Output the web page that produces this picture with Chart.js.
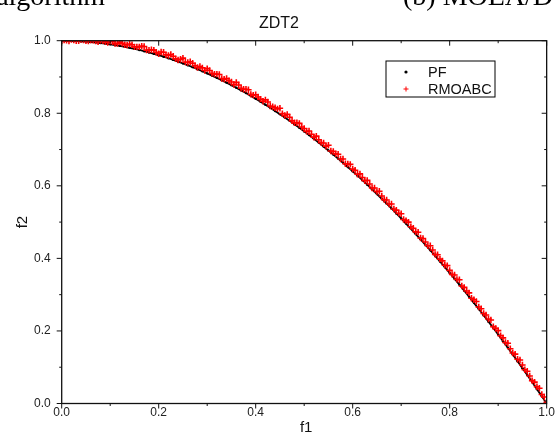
<!DOCTYPE html>
<html>
<head>
<meta charset="utf-8">
<script src="https://cdn.jsdelivr.net/npm/chart.js@4/dist/chart.umd.min.js"></script>
<style>
  html, body { margin: 0; padding: 0; background: #fff; }
  #wrap { width: 557px; height: 434px; position: relative; }
</style>
</head>
<body>
<div id="wrap"><canvas id="zdt2"></canvas></div>
<script>
// PF (true front), f1 / f2
const pfF1 = [
  0.00, 0.01, 0.02, 0.03, 0.04, 0.05, 0.06, 0.07, 0.08, 0.09,
  0.10, 0.11, 0.12, 0.13, 0.14, 0.15, 0.16, 0.17, 0.18, 0.19,
  0.20, 0.21, 0.22, 0.23, 0.24, 0.25, 0.26, 0.27, 0.28, 0.29,
  0.30, 0.31, 0.32, 0.33, 0.34, 0.35, 0.36, 0.37, 0.38, 0.39,
  0.40, 0.41, 0.42, 0.43, 0.44, 0.45, 0.46, 0.47, 0.48, 0.49,
  0.50, 0.51, 0.52, 0.53, 0.54, 0.55, 0.56, 0.57, 0.58, 0.59,
  0.60, 0.61, 0.62, 0.63, 0.64, 0.65, 0.66, 0.67, 0.68, 0.69,
  0.70, 0.71, 0.72, 0.73, 0.74, 0.75, 0.76, 0.77, 0.78, 0.79,
  0.80, 0.81, 0.82, 0.83, 0.84, 0.85, 0.86, 0.87, 0.88, 0.89,
  0.90, 0.91, 0.92, 0.93, 0.94, 0.95, 0.96, 0.97, 0.98, 0.99,
  1.00
];
const pfF2 = [
  1.0000, 0.9999, 0.9996, 0.9991, 0.9984, 0.9975, 0.9964, 0.9951, 0.9936, 0.9919,
  0.9900, 0.9879, 0.9856, 0.9831, 0.9804, 0.9775, 0.9744, 0.9711, 0.9676, 0.9639,
  0.9600, 0.9559, 0.9516, 0.9471, 0.9424, 0.9375, 0.9324, 0.9271, 0.9216, 0.9159,
  0.9100, 0.9039, 0.8976, 0.8911, 0.8844, 0.8775, 0.8704, 0.8631, 0.8556, 0.8479,
  0.8400, 0.8319, 0.8236, 0.8151, 0.8064, 0.7975, 0.7884, 0.7791, 0.7696, 0.7599,
  0.7500, 0.7399, 0.7296, 0.7191, 0.7084, 0.6975, 0.6864, 0.6751, 0.6636, 0.6519,
  0.6400, 0.6279, 0.6156, 0.6031, 0.5904, 0.5775, 0.5644, 0.5511, 0.5376, 0.5239,
  0.5100, 0.4959, 0.4816, 0.4671, 0.4524, 0.4375, 0.4224, 0.4071, 0.3916, 0.3759,
  0.3600, 0.3439, 0.3276, 0.3111, 0.2944, 0.2775, 0.2604, 0.2431, 0.2256, 0.2079,
  0.1900, 0.1719, 0.1536, 0.1351, 0.1164, 0.0975, 0.0784, 0.0591, 0.0396, 0.0199,
  0.0000
];

// RMOABC solutions, f1 / f2 (sit just above the front)
const rmoF1 = [
  0.000, 0.005, 0.010, 0.015, 0.020, 0.025, 0.030, 0.035, 0.040, 0.045,
  0.050, 0.055, 0.060, 0.065, 0.070, 0.075, 0.080, 0.085, 0.090, 0.095,
  0.100, 0.105, 0.110, 0.115, 0.120, 0.125, 0.130, 0.135, 0.140, 0.145,
  0.150, 0.155, 0.160, 0.165, 0.170, 0.175, 0.180, 0.185, 0.190, 0.195,
  0.200, 0.205, 0.210, 0.215, 0.220, 0.225, 0.230, 0.235, 0.240, 0.245,
  0.250, 0.255, 0.260, 0.265, 0.270, 0.275, 0.280, 0.285, 0.290, 0.295,
  0.300, 0.305, 0.310, 0.315, 0.320, 0.325, 0.330, 0.335, 0.340, 0.345,
  0.350, 0.355, 0.360, 0.365, 0.370, 0.375, 0.380, 0.385, 0.390, 0.395,
  0.400, 0.405, 0.410, 0.415, 0.420, 0.425, 0.430, 0.435, 0.440, 0.445,
  0.450, 0.455, 0.460, 0.465, 0.470, 0.475, 0.480, 0.485, 0.490, 0.495,
  0.500, 0.505, 0.510, 0.515, 0.520, 0.525, 0.530, 0.535, 0.540, 0.545,
  0.550, 0.555, 0.560, 0.565, 0.570, 0.575, 0.580, 0.585, 0.590, 0.595,
  0.600, 0.605, 0.610, 0.615, 0.620, 0.625, 0.630, 0.635, 0.640, 0.645,
  0.650, 0.655, 0.660, 0.665, 0.670, 0.675, 0.680, 0.685, 0.690, 0.695,
  0.700, 0.705, 0.710, 0.715, 0.720, 0.725, 0.730, 0.735, 0.740, 0.745,
  0.750, 0.755, 0.760, 0.765, 0.770, 0.775, 0.780, 0.785, 0.790, 0.795,
  0.800, 0.805, 0.810, 0.815, 0.820, 0.825, 0.830, 0.835, 0.840, 0.845,
  0.850, 0.855, 0.860, 0.865, 0.870, 0.875, 0.880, 0.885, 0.890, 0.895,
  0.900, 0.905, 0.910, 0.915, 0.920, 0.925, 0.930, 0.935, 0.940, 0.945,
  0.950, 0.955, 0.960, 0.965, 0.970, 0.975, 0.980, 0.985, 0.990, 0.995,
  1.000
];
const rmoF2 = [
  1.000, 1.002, 1.001, 0.999, 1.003, 1.002, 1.000, 1.000, 1.003, 1.002,
  1.000, 0.999, 1.002, 1.001, 0.999, 0.997, 1.001, 1.000, 0.997, 0.995,
  0.999, 0.997, 0.992, 0.992, 0.996, 0.993, 0.989, 0.988, 0.991, 0.989,
  0.983, 0.983, 0.983, 0.985, 0.984, 0.974, 0.974, 0.975, 0.974, 0.968,
  0.964, 0.969, 0.968, 0.961, 0.959, 0.962, 0.957, 0.950, 0.947, 0.949,
  0.952, 0.941, 0.940, 0.942, 0.938, 0.931, 0.926, 0.929, 0.925, 0.918,
  0.923, 0.918, 0.910, 0.908, 0.908, 0.907, 0.896, 0.894, 0.896, 0.890,
  0.886, 0.879, 0.885, 0.878, 0.869, 0.866, 0.866, 0.865, 0.852, 0.850,
  0.851, 0.845, 0.839, 0.833, 0.837, 0.831, 0.820, 0.818, 0.815, 0.812,
  0.814, 0.799, 0.794, 0.797, 0.789, 0.779, 0.774, 0.774, 0.772, 0.762,
  0.758, 0.750, 0.751, 0.742, 0.734, 0.737, 0.727, 0.719, 0.718, 0.709,
  0.712, 0.696, 0.695, 0.688, 0.687, 0.674, 0.674, 0.661, 0.660, 0.659,
  0.646, 0.643, 0.632, 0.633, 0.623, 0.614, 0.615, 0.605, 0.594, 0.594,
  0.584, 0.585, 0.572, 0.562, 0.561, 0.550, 0.550, 0.536, 0.533, 0.524,
  0.523, 0.507, 0.504, 0.500, 0.487, 0.483, 0.473, 0.472, 0.456, 0.455,
  0.445, 0.435, 0.435, 0.423, 0.411, 0.410, 0.398, 0.393, 0.381, 0.380,
  0.367, 0.356, 0.354, 0.342, 0.341, 0.324, 0.320, 0.310, 0.305, 0.290,
  0.286, 0.281, 0.266, 0.261, 0.248, 0.244, 0.233, 0.230, 0.212, 0.207,
  0.201, 0.187, 0.181, 0.168, 0.166, 0.151, 0.139, 0.136, 0.122, 0.120,
  0.106, 0.093, 0.089, 0.076, 0.063, 0.059, 0.046, 0.042, 0.025, 0.018,
  0.003
];

const majorTicks = [0, 0.2, 0.4, 0.6, 0.8, 1.0];
const minorTicks = [0.1, 0.3, 0.5, 0.7, 0.9];

const SANS = "'Liberation Sans', Arial, sans-serif";
const SERIF = "'Liberation Serif', 'Times New Roman', serif";

const toPoints = (xs, ys) => xs.map((x, i) => ({ x, y: ys[i] }));

// ── frame, ticks, legend, titles ───────────────────────────
const decorPlugin = {
  id: 'decor',
  afterDraw(chart) {
    const { ctx, chartArea: a, scales } = chart;
    const xs = scales.x, ys = scales.y;
    ctx.save();

    // box
    ctx.strokeStyle = '#111';
    ctx.lineWidth = 1.3;
    ctx.strokeRect(a.left, a.top, a.right - a.left, a.bottom - a.top);

    // ticks: out on bottom/left, in on top/right
    const tick = (v, len) => {
      const px = xs.getPixelForValue(v);
      const py = ys.getPixelForValue(v);
      ctx.beginPath();
      ctx.moveTo(px, a.bottom); ctx.lineTo(px, a.bottom + len);
      ctx.moveTo(px, a.top);    ctx.lineTo(px, a.top + len);
      ctx.moveTo(a.left, py);   ctx.lineTo(a.left - len, py);
      ctx.moveTo(a.right, py);  ctx.lineTo(a.right - len, py);
      ctx.stroke();
    };
    ctx.lineWidth = 1;
    majorTicks.forEach(v => tick(v, 5));
    minorTicks.forEach(v => tick(v, 2.5));

    // legend
    const lx = 386, ly = 61, lw = 109, lh = 36;
    ctx.lineWidth = 1;
    ctx.strokeStyle = '#000';
    ctx.strokeRect(lx, ly, lw, lh);
    ctx.font = `14.5px ${SANS}`;
    ctx.textBaseline = 'middle';
    chart.data.datasets.forEach((ds, i) => {
      const cy = ly + 11 + i * 17;
      if (ds.pointStyle === 'cross') {
        ctx.strokeStyle = ds.pointBorderColor;
        ctx.beginPath();
        ctx.moveTo(403.5, cy); ctx.lineTo(408.5, cy);
        ctx.moveTo(406, cy - 2.5); ctx.lineTo(406, cy + 2.5);
        ctx.stroke();
      } else {
        ctx.fillStyle = ds.pointBackgroundColor;
        ctx.beginPath();
        ctx.arc(406, cy, 1.6, 0, Math.PI * 2);
        ctx.fill();
      }
      ctx.fillStyle = '#111';
      ctx.fillText(ds.label, 428, cy + 1);
    });

    // titles
    ctx.fillStyle = '#111';
    ctx.textAlign = 'center';
    ctx.textBaseline = 'alphabetic';
    ctx.font = `16px ${SANS}`;
    ctx.fillText('ZDT2', 279, 28);
    ctx.font = `15px ${SANS}`;
    ctx.fillText('f1', (a.left + a.right) / 2 + 2, 432);
    ctx.save();
    ctx.translate(27, (a.top + a.bottom) / 2);
    ctx.rotate(-Math.PI / 2);
    ctx.fillText('f2', 0, 0);
    ctx.restore();

    // cropped caption line of the page above
    ctx.font = `28px ${SERIF}`;
    ctx.textAlign = 'right';
    ctx.fillStyle = '#000';
    ctx.fillText('algorithm', 105, 4.5);
    ctx.textAlign = 'left';
    ctx.fillText('(b) MOEA/D', 403, 4.5);

    ctx.restore();
  }
};

const axisCommon = {
  type: 'linear',
  min: 0,
  max: 1,
  grid: { display: false, drawTicks: false },
  border: { display: false },
  ticks: {
    stepSize: 0.2,
    color: '#222',
    font: { family: SANS, size: 12 },
    callback: v => v.toFixed(1)
  }
};

new Chart(document.getElementById('zdt2'), {
  type: 'scatter',
  data: {
    datasets: [
      {
        label: 'PF',
        data: toPoints(pfF1, pfF2),
        showLine: true,
        borderColor: '#000',
        borderWidth: 1.8,
        pointStyle: 'circle',
        pointRadius: 1.2,
        pointBackgroundColor: '#000',
        pointBorderColor: '#000',
        pointBorderWidth: 0,
        order: 2
      },
      {
        label: 'RMOABC',
        data: toPoints(rmoF1, rmoF2),
        pointStyle: 'cross',
        pointRadius: 3.2,
        pointBorderColor: '#ff0000',
        pointBackgroundColor: '#ff0000',
        pointBorderWidth: 1.6,
        order: 1
      }
    ]
  },
  options: {
    responsive: true,
    maintainAspectRatio: false,
    animation: false,
    layout: { padding: { top: 40.7, right: 8.3, left: 0, bottom: 0 } },
    plugins: {
      legend: { display: false },
      title: { display: false },
      tooltip: { enabled: false }
    },
    scales: {
      x: {
        ...axisCommon,
        ticks: { ...axisCommon.ticks, padding: 2 },
        afterFit: s => { s.height = 30.5; }
      },
      y: {
        ...axisCommon,
        ticks: { ...axisCommon.ticks, padding: 11 },
        afterFit: s => { s.width = 61.7; }
      }
    }
  },
  plugins: [decorPlugin]
});
</script>
</body>
</html>
